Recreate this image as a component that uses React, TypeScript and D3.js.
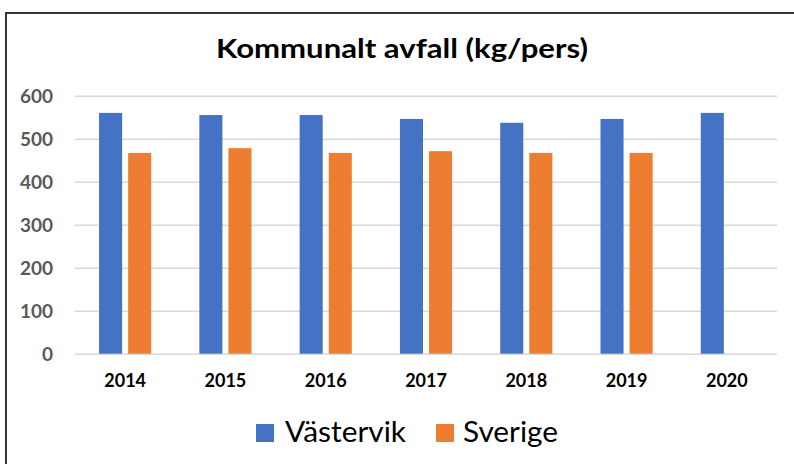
import React, { useEffect, useRef } from 'react';
import * as d3 from 'd3';

const years = ['2014', '2015', '2016', '2017', '2018', '2019', '2020'];
const series = ['Västervik', 'Sverige'];
const vastervik = [560, 555, 555, 546, 537, 546, 560];
const sverige = [467, 478, 467, 471, 467, 467, null];
const yTicks = [0, 100, 200, 300, 400, 500, 600];
const colors = ['#4472C4', '#ED7D31'];

const App = () => {
    const svgRef = useRef<SVGSVGElement | null>(null);

    useEffect(() => {
        const width = 794;
        const height = 464;
        const left = 75;
        const right = 777;
        const top = 95.7;
        const bottom = 353.7;
        const font = 'Lato, "Open Sans", sans-serif';

        const svg = d3.select(svgRef.current);
        svg.selectAll('*').remove();
        svg.attr('width', width).attr('height', height);

        svg.append('rect').attr('width', width).attr('height', height).attr('fill', '#fff');

        // frame, only left and top edges are visible in the picture
        svg.append('path')
            .attr('d', `M6,${height} L6,13 L${width},13`)
            .attr('fill', 'none')
            .attr('stroke', '#333')
            .attr('stroke-width', 2);

        svg.append('text')
            .attr('x', 402)
            .attr('y', 58)
            .attr('text-anchor', 'middle')
            .attr('textLength', 372)
            .attr('lengthAdjust', 'spacingAndGlyphs')
            .style('font-family', font)
            .style('font-weight', 700)
            .style('font-size', '27px')
            .style('fill', '#000')
            .text('Kommunalt avfall (kg/pers)');

        const x = d3.scaleBand().domain(years).range([left, right]).padding(0);
        const groupPad = x.bandwidth() * 0.24;
        const x1 = d3.scaleBand()
            .domain(series)
            .range([groupPad, x.bandwidth() - groupPad])
            .paddingInner(0.207);
        const y = d3.scaleLinear().domain([0, 600]).range([bottom, top]);

        const yAxis = svg.append('g')
            .attr('transform', `translate(${left},0)`)
            .call(d3.axisLeft(y).tickValues(yTicks).tickSize(-(right - left)).tickPadding(22));
        yAxis.select('.domain').remove();
        yAxis.selectAll('line').attr('stroke', '#d9d9d9').attr('stroke-width', 1.5);
        yAxis.selectAll('text')
            .attr('dy', '0.36em')
            .style('font-family', font)
            .style('font-weight', 700)
            .style('font-size', '19px')
            .style('fill', '#595959');

        const xAxis = svg.append('g')
            .attr('transform', `translate(0,${bottom})`)
            .call(d3.axisBottom(x).tickSize(0).tickPadding(20.5));
        xAxis.select('.domain').remove();
        xAxis.selectAll('text')
            .style('font-family', font)
            .style('font-weight', 700)
            .style('font-size', '18px')
            .style('fill', '#000');

        const values = [vastervik, sverige];
        series.forEach((name, si) => {
            years.forEach((year, i) => {
                const v = values[si][i];
                if (v == null) return;
                svg.append('rect')
                    .attr('x', (x(year) ?? 0) + (x1(name) ?? 0))
                    .attr('y', y(v))
                    .attr('width', x1.bandwidth())
                    .attr('height', y(0) - y(v))
                    .attr('fill', colors[si]);
            });
        });

        // legend
        const legendItems = [
            { box: 256, text: 285, len: 121 },
            { box: 436, text: 463, len: 95 }
        ];
        series.forEach((name, si) => {
            const item = legendItems[si];
            svg.append('rect')
                .attr('x', item.box)
                .attr('y', 424)
                .attr('width', 18)
                .attr('height', 18)
                .attr('fill', colors[si]);
            svg.append('text')
                .attr('x', item.text)
                .attr('y', 442)
                .attr('textLength', item.len)
                .attr('lengthAdjust', 'spacingAndGlyphs')
                .style('font-family', font)
                .style('font-size', '28px')
                .style('fill', '#000')
                .text(name);
        });
    }, []);

    return (
        <div style={{ position: 'fixed', left: 0, top: 0, width: 794, height: 464 }}>
            <svg ref={svgRef} style={{ display: 'block' }}></svg>
        </div>
    );
};

export default App;
